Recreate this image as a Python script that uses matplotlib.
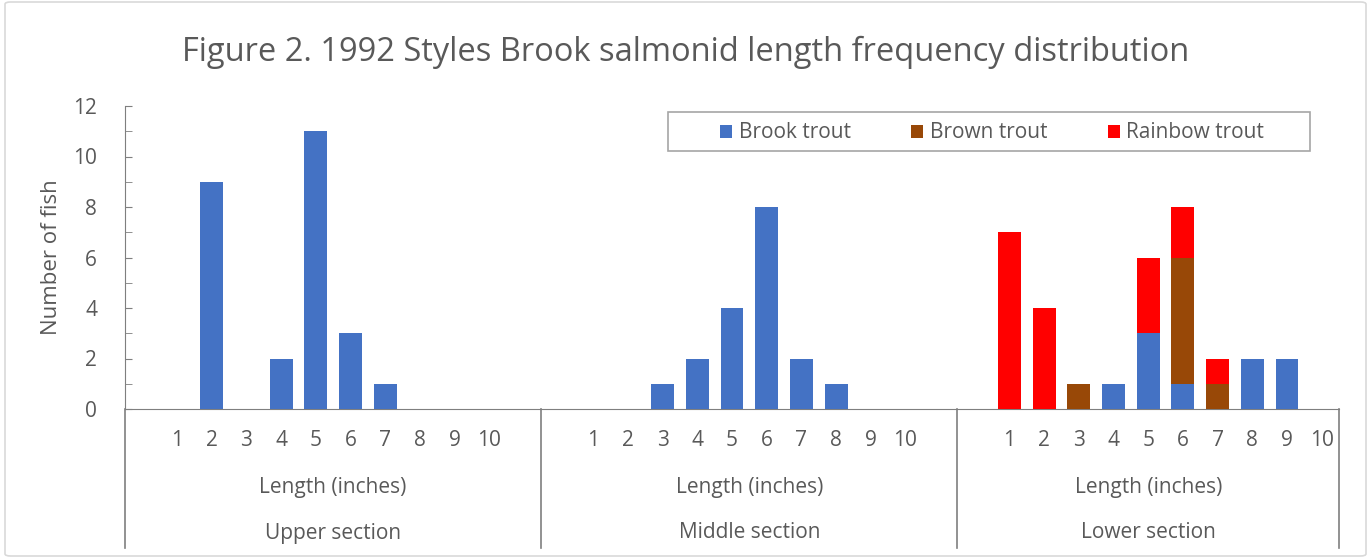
import numpy as np
import matplotlib.pyplot as plt
import matplotlib.transforms as mtransforms
from matplotlib.patches import FancyBboxPatch, Rectangle

plt.rcParams['font.family'] = ['Open Sans', 'DejaVu Sans']

# Datos
secciones = ["Upper section", "Middle section", "Lower section"]
n_categorias = [12, 12, 11]          # "" + 1..10 (+ "")
largos = list(range(1, 11))

# Longitud (pulgadas) -> numero de peces, por seccion
upper_brook = [0, 9, 0, 2, 11, 3, 1, 0, 0, 0]
middle_brook = [0, 0, 1, 2, 4, 8, 2, 1, 0, 0]
lower_brook = [0, 0, 0, 1, 3, 1, 0, 2, 2, 0]
lower_brown = [0, 0, 1, 0, 0, 5, 1, 0, 0, 0]
lower_rainbow = [7, 4, 0, 0, 3, 2, 1, 0, 0, 0]

especies = ["Brook trout", "Brown trout", "Rainbow trout"]
colores = ["#4472C4", "#984807", "#FF0000"]
gris = "#595959"

W, H = 1371, 558
fig = plt.figure(figsize=(W / 100, H / 100), dpi=100)
fig.patches.append(FancyBboxPatch((5 / W, 2 / H), 1 - 10 / W, 1 - 4 / H,
                                  boxstyle="round,pad=0,rounding_size=0.004",
                                  transform=fig.transFigure, fill=False,
                                  edgecolor="#D9D9D9", linewidth=1.2))

ax = fig.add_axes([125 / W, 1 - 409 / H, (1339 - 125) / W, (409 - 106) / H])

offsets = np.cumsum([0] + n_categorias[:-1])
total = sum(n_categorias)
ancho = 0.66

series = [
    (upper_brook, [0] * 10, [0] * 10),
    (middle_brook, [0] * 10, [0] * 10),
    (lower_brook, lower_brown, lower_rainbow),
]

for s, (brook, brown, rainbow) in enumerate(series):
    x = offsets[s] + np.array(largos)
    base = np.zeros(10)
    for vals, col, name in zip((brook, brown, rainbow), colores, especies):
        vals = np.array(vals, dtype=float)
        ax.bar(x, vals, width=ancho, bottom=base, color=col, edgecolor="none",
               label=name if s == 2 else None, zorder=3)
        base += vals

ax.set_xlim(-0.5, total - 0.5)
ax.set_ylim(0, 12)
ax.set_yticks(np.arange(0, 13, 2))
ax.set_yticks(np.arange(1, 12, 2), minor=True)
ax.tick_params(axis="y", which="both", direction="in", length=5, color="#7F7F7F",
               labelsize=15, labelcolor=gris, pad=20)
ax.set_xticks([])
for side in ("top", "right"):
    ax.spines[side].set_visible(False)
ax.spines["left"].set_color("#7F7F7F")
ax.spines["bottom"].set_color("#7F7F7F")
ax.set_ylabel("Number of fish", fontsize=16, color=gris, labelpad=8)

# Eje de categorias de varios niveles
trans = mtransforms.blended_transform_factory(ax.transData, ax.transAxes)
px = 1 / (409 - 106)
y_num = -32 * px
y_len = -79 * px
y_sec = -124 * px
y_fin = -139 * px
lc = "#7F7F7F"
bordes = [o - 0.5 for o in offsets] + [total - 0.5]
for b in bordes:
    ax.plot([b, b], [0, y_fin], transform=trans, color=lc, lw=1.2, clip_on=False)
for s, o in enumerate(offsets):
    for L in largos:
        ax.text(o + L, y_num, str(L), transform=trans, ha="center", va="center",
                fontsize=15, color=gris)
    centro = (bordes[s] + bordes[s + 1]) / 2
    ax.text(centro, y_len, "Length (inches)", transform=trans, ha="center",
            va="center", fontsize=15, color=gris)
    ax.text(centro, y_sec, secciones[s], transform=trans, ha="center",
            va="center", fontsize=15, color=gris)

# Leyenda con marco dibujado aparte
fig.patches.append(Rectangle((668 / W, 1 - 151 / H), (1310 - 668) / W, 39 / H,
                             transform=fig.transFigure, fill=False,
                             edgecolor="#A6A6A6", linewidth=1.2, zorder=5))
leg = ax.legend(loc="center", bbox_to_anchor=(992 / W, 1 - 133 / H),
                bbox_transform=fig.transFigure, ncol=3, frameon=False, fontsize=15,
                handlelength=0.6, handleheight=0.6, handletextpad=0.3,
                columnspacing=2.9, borderpad=0)
for t in leg.get_texts():
    t.set_color(gris)

fig.text(0.5, 1 - 52 / H, "Figure 2. 1992 Styles Brook salmonid length frequency distribution",
         ha="center", va="center", fontsize=23.5, color=gris)

fig.savefig("out.png", dpi=100)
